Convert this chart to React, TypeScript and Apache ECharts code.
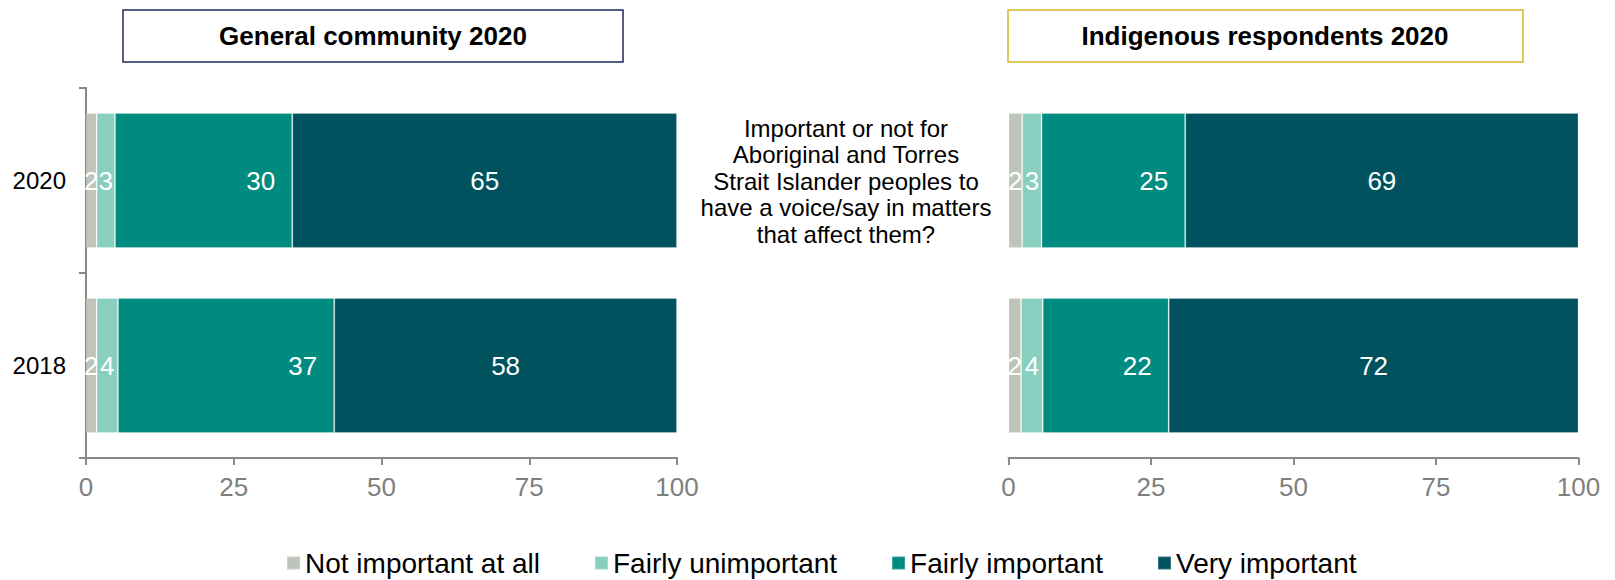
import React, { useEffect, useRef } from "react";
import * as echarts from "echarts";

const years = ["2020", "2018"];
const seriesNames = ["Not important at all", "Fairly unimportant", "Fairly important", "Very important"];
const colors = ["#BEC4B9", "#88CFC0", "#008B80", "#00535E"];

// General community (left panel), values for [2020, 2018]
const generalNotImportant = [1.8, 1.8];
const generalFairlyUnimportant = [3.1, 3.6];
const generalFairlyImportant = [30.0, 36.6];
const generalVeryImportant = [65.1, 58.0];

// Indigenous respondents (right panel), values for [2020, 2018]
const indigNotImportant = [2.4, 2.2];
const indigFairlyUnimportant = [3.4, 3.8];
const indigFairlyImportant = [25.2, 22.1];
const indigVeryImportant = [69.0, 71.9];

const leftTitle = "General community 2020";
const rightTitle = "Indigenous respondents 2020";
const question = "Important or not for\nAboriginal and Torres\nStrait Islander peoples to\nhave a voice/say in matters\nthat affect them?";

const FONT = "'Liberation Sans', Arial, Helvetica, sans-serif";
const AXIS_GRAY = "#898989";

export default function App() {
  const ref = useRef<HTMLDivElement>(null);

  useEffect(() => {
    document.body.style.margin = "0";
    if (!ref.current) return;
    const chart = echarts.init(ref.current, undefined, { renderer: "svg" });

    const groups = [
      { stack: "general", grid: 0, data: [generalNotImportant, generalFairlyUnimportant, generalFairlyImportant, generalVeryImportant] },
      { stack: "indig", grid: 1, data: [indigNotImportant, indigFairlyUnimportant, indigFairlyImportant, indigVeryImportant] },
    ];

    const series: any[] = [];
    groups.forEach((g) => {
      g.data.forEach((vals, i) => {
        series.push({
          type: "bar",
          name: seriesNames[i],
          stack: g.stack,
          xAxisIndex: g.grid,
          yAxisIndex: g.grid,
          data: vals,
          barWidth: 135,
          itemStyle: { color: colors[i], borderColor: "rgba(255,255,255,0.22)", borderWidth: 1 },
          label: {
            show: true,
            position: i === 2 ? "insideRight" : "inside",
            distance: i === 2 ? 17 : 5,
            color: "#ffffff",
            fontSize: 26,
            fontFamily: FONT,
            formatter: (p: any) => String(Math.round(p.value)),
          },
        });
      });
    });

    const xAxisCommon = {
      type: "value",
      min: 0,
      max: 100,
      interval: 25,
      splitLine: { show: false },
      axisLine: { show: true, lineStyle: { color: AXIS_GRAY, width: 2 } },
      axisTick: { show: true, length: 7, lineStyle: { color: AXIS_GRAY, width: 2 } },
      axisLabel: { color: "#7f7f7f", fontSize: 26, fontFamily: FONT, margin: 16 },
    };

    chart.setOption({
      animation: false,
      textStyle: { fontFamily: FONT },
      grid: [
        { left: 86, width: 591, top: 88, height: 370 },
        { left: 1008.5, width: 570, top: 88, height: 370 },
      ],
      xAxis: [
        { ...xAxisCommon, gridIndex: 0 },
        { ...xAxisCommon, gridIndex: 1 },
      ],
      yAxis: [
        {
          type: "category",
          gridIndex: 0,
          data: years,
          inverse: true,
          axisLine: { show: true, lineStyle: { color: AXIS_GRAY, width: 2 } },
          axisTick: { show: true, length: 7, lineStyle: { color: AXIS_GRAY, width: 2 } },
          axisLabel: { color: "#000000", fontSize: 24, fontFamily: FONT, margin: 20 },
        },
        {
          type: "category",
          gridIndex: 1,
          data: years,
          inverse: true,
          axisLine: { show: false },
          axisTick: { show: false },
          axisLabel: { show: false },
        },
      ],
      legend: {
        data: seriesNames,
        left: 286,
        top: 549,
        padding: 0,
        itemWidth: 13,
        itemHeight: 13,
        itemGap: 54,
        icon: "rect",
        textStyle: { fontSize: 28, color: "#000000", fontFamily: FONT },
      },
      graphic: [
        {
          type: "rect",
          shape: { x: 123, y: 10, width: 500, height: 52 },
          style: { fill: "#ffffff", stroke: "#1F2A5C", lineWidth: 1.5 },
        },
        {
          type: "text",
          x: 373,
          y: 36,
          style: {
            text: leftTitle,
            fontSize: 26,
            fontWeight: "bold",
            fontFamily: FONT,
            fill: "#000000",
            align: "center",
            verticalAlign: "middle",
          },
        },
        {
          type: "rect",
          shape: { x: 1008, y: 10, width: 515, height: 52 },
          style: { fill: "#ffffff", stroke: "#D2B92A", lineWidth: 1.5 },
        },
        {
          type: "text",
          x: 1265,
          y: 36,
          style: {
            text: rightTitle,
            fontSize: 26,
            fontWeight: "bold",
            fontFamily: FONT,
            fill: "#000000",
            align: "center",
            verticalAlign: "middle",
          },
        },
        {
          type: "text",
          x: 846,
          y: 181,
          style: {
            text: question,
            fontSize: 24,
            lineHeight: 26.5,
            fontFamily: FONT,
            fill: "#000000",
            align: "center",
            verticalAlign: "middle",
          },
        },
      ],
      series,
    });

    return () => chart.dispose();
  }, []);

  return <div ref={ref} style={{ width: 1615, height: 580 }} />;
}
